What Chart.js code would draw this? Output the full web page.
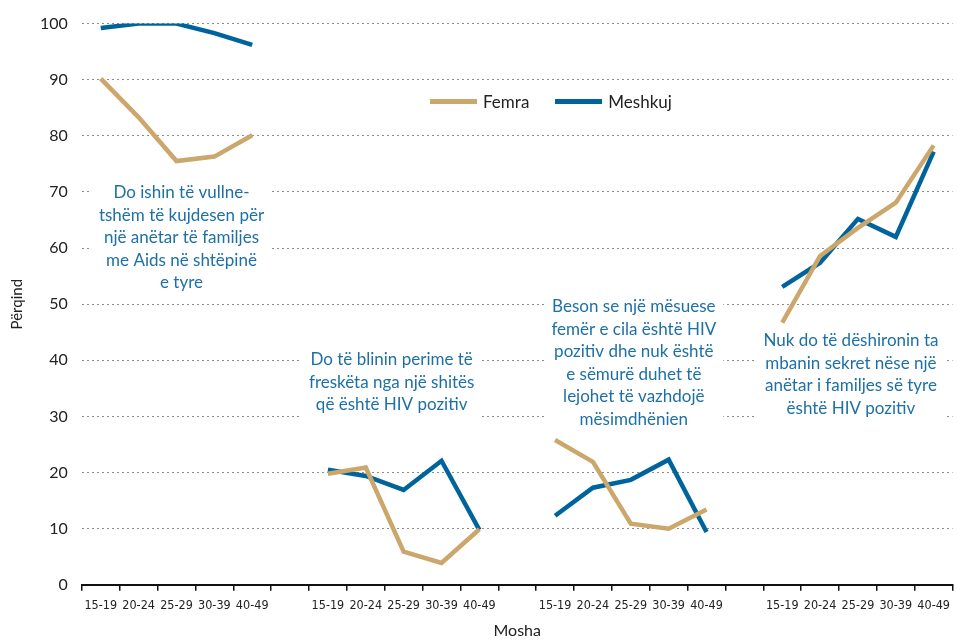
<!DOCTYPE html>
<html>
<head>
<meta charset="utf-8">
<script src="https://cdn.jsdelivr.net/npm/chart.js@4"></script>
<style>
  body { margin: 0; background: #fff; }
  #wrap { position: relative; width: 957px; height: 641px; }
  #legend { position: absolute; left: 430px; top: 91px; font: 17px Lato, sans-serif; color: #222; display: flex; align-items: center; }
  #legend .sw { display: inline-block; width: 47px; height: 5px; margin-right: 6px; }
  #legend .it { display: flex; align-items: center; margin-right: 26px; }
</style>
</head>
<body>
<div id="wrap">
  <canvas id="lineChart"></canvas>
  <div id="legend"></div>
</div>
<script>
// age groups repeated for each question
const ageGroups = ["15-19", "20-24", "25-29", "30-39", "40-49"];

// Femra (women), one array per question
const femraAids = [90.2, 83.3, 75.5, 76.3, 80.1];
const femraVeg = [19.8, 20.9, 5.9, 3.9, 9.9];
const femraTeacher = [25.8, 21.9, 10.9, 10.0, 13.4];
const femraSecret = [46.7, 58.6, 63.6, 68.1, 78.3];

// Meshkuj (men)
const meshkujAids = [99.2, 100, 100, 98.3, 96.2];
const meshkujVeg = [20.5, 19.4, 16.9, 22.1, 9.8];
const meshkujTeacher = [12.3, 17.3, 18.7, 22.3, 9.4];
const meshkujSecret = [53.1, 57.4, 65.2, 62.0, 77.2];

const yTicks = [0, 10, 20, 30, 40, 50, 60, 70, 80, 90, 100];

const noteAids = ["Do ishin të vullne-", "tshëm të kujdesen për", "një anëtar të familjes", "me Aids në shtëpinë", "e tyre"];
const noteVeg = ["Do të blinin perime të", "freskëta nga një shitës", "që është HIV pozitiv"];
const noteTeacher = ["Beson se një mësuese", "femër e cila është HIV", "pozitiv dhe nuk është", "e sëmurë duhet të", "lejohet të vazhdojë", "mësimdhënien"];
const noteSecret = ["Nuk do të dëshironin ta", "mbanin sekret nëse një", "anëtar i familjes së tyre", "është HIV pozitiv"];

// join groups with an empty category in between
function joinGroups(groups, gap) {
  let out = [];
  groups.forEach(function (g, i) {
    if (i > 0) out.push(gap);
    out = out.concat(g);
  });
  return out;
}

const labels = joinGroups([ageGroups, ageGroups, ageGroups, ageGroups], "");
const femraData = joinGroups([femraAids, femraVeg, femraTeacher, femraSecret], null);
const meshkujData = joinGroups([meshkujAids, meshkujVeg, meshkujTeacher, meshkujSecret], null);

const femraColor = "#cba76c";
const meshkujColor = "#00649c";
const noteColor = "#1d70a6";

// notes: category index of the centre column, y value of first line, x shift
const notes = [
  { lines: noteAids, cat: 2, y: 69.9, dx: 5 },
  { lines: noteVeg, cat: 8, y: 40.1, dx: -12 },
  { lines: noteTeacher, cat: 14, y: 49.5, dx: 3 },
  { lines: noteSecret, cat: 20, y: 43.5, dx: -7 },
];

const notePlugin = {
  id: "notes",
  beforeDatasetsDraw(chart) {
    const c = chart.ctx;
    const xs = chart.scales.x;
    const ys = chart.scales.y;
    const lh = 22.5;
    c.save();
    c.font = "17px Lato, sans-serif";
    c.textAlign = "center";
    c.textBaseline = "middle";
    notes.forEach(function (n) {
      const cx = xs.getPixelForValue(n.cat) + n.dx;
      const y0 = ys.getPixelForValue(n.y);
      let w = 0;
      n.lines.forEach(function (l) { w = Math.max(w, c.measureText(l).width); });
      c.fillStyle = "#fff";
      c.fillRect(cx - w / 2 - 7, y0 - lh / 2 - 6, w + 14, n.lines.length * lh + 12);
      c.fillStyle = noteColor;
      n.lines.forEach(function (l, i) { c.fillText(l, cx, y0 + i * lh); });
    });
    c.restore();
  },
};

document.addEventListener("DOMContentLoaded", function () {
  const ctx = document.getElementById("lineChart").getContext("2d");

  const myChart = new Chart(ctx, {
    type: "line",
    data: {
      labels: labels,
      datasets: [
        {
          label: "Femra",
          data: femraData,
          borderColor: femraColor,
          backgroundColor: femraColor,
          borderWidth: 4.5,
          pointRadius: 0,
          tension: 0,
          spanGaps: false,
        },
        {
          label: "Meshkuj",
          data: meshkujData,
          borderColor: meshkujColor,
          backgroundColor: meshkujColor,
          borderWidth: 4.5,
          pointRadius: 0,
          tension: 0,
          spanGaps: false,
        },
      ],
    },
    options: {
      responsive: true,
      maintainAspectRatio: false,
      animation: false,
      layout: { padding: { top: 14, right: 0, left: 4, bottom: 1 } },
      plugins: {
        legend: { display: false },
        tooltip: { enabled: false },
      },
      scales: {
        x: {
          offset: true,
          grid: {
            offset: true,
            drawOnChartArea: false,
            drawTicks: true,
            tickLength: 6,
            color: "#111",
            lineWidth: 1.5,
          },
          border: { display: true, color: "#111", width: 2 },
          ticks: {
            autoSkip: false,
            maxRotation: 0,
            padding: 7,
            color: "#222",
            font: { family: "'Liberation Sans Narrow', 'DejaVu Sans Condensed', sans-serif", size: 12.5 },
          },
          title: {
            display: true,
            text: "Mosha",
            color: "#222",
            font: { family: "Lato, sans-serif", size: 16 },
            padding: { top: 1, bottom: 0 },
          },
        },
        y: {
          min: 0,
          max: 100,
          afterBuildTicks: function (axis) {
            axis.ticks = yTicks.map(function (v) { return { value: v }; });
          },
          grid: {
            drawTicks: false,
            color: function (c) { return c.tick.value === 0 ? "rgba(0,0,0,0)" : "#8c8c8c"; },
            lineWidth: 1,
          },
          border: { display: false, dash: [2, 3] },
          ticks: {
            padding: 14,
            color: "#222",
            font: { family: "Lato, sans-serif", size: 16 },
          },
          title: {
            display: true,
            text: "Përqind",
            color: "#222",
            font: { family: "Lato, sans-serif", size: 15 },
            padding: { top: 4, bottom: 0 },
          },
        },
      },
    },
    plugins: [notePlugin],
  });

  // legend as html
  const legend = document.getElementById("legend");
  myChart.data.datasets.forEach(function (ds) {
    const it = document.createElement("span");
    it.className = "it";
    const sw = document.createElement("span");
    sw.className = "sw";
    sw.style.background = ds.borderColor;
    it.appendChild(sw);
    it.appendChild(document.createTextNode(ds.label));
    legend.appendChild(it);
  });
});
</script>
</body>
</html>
